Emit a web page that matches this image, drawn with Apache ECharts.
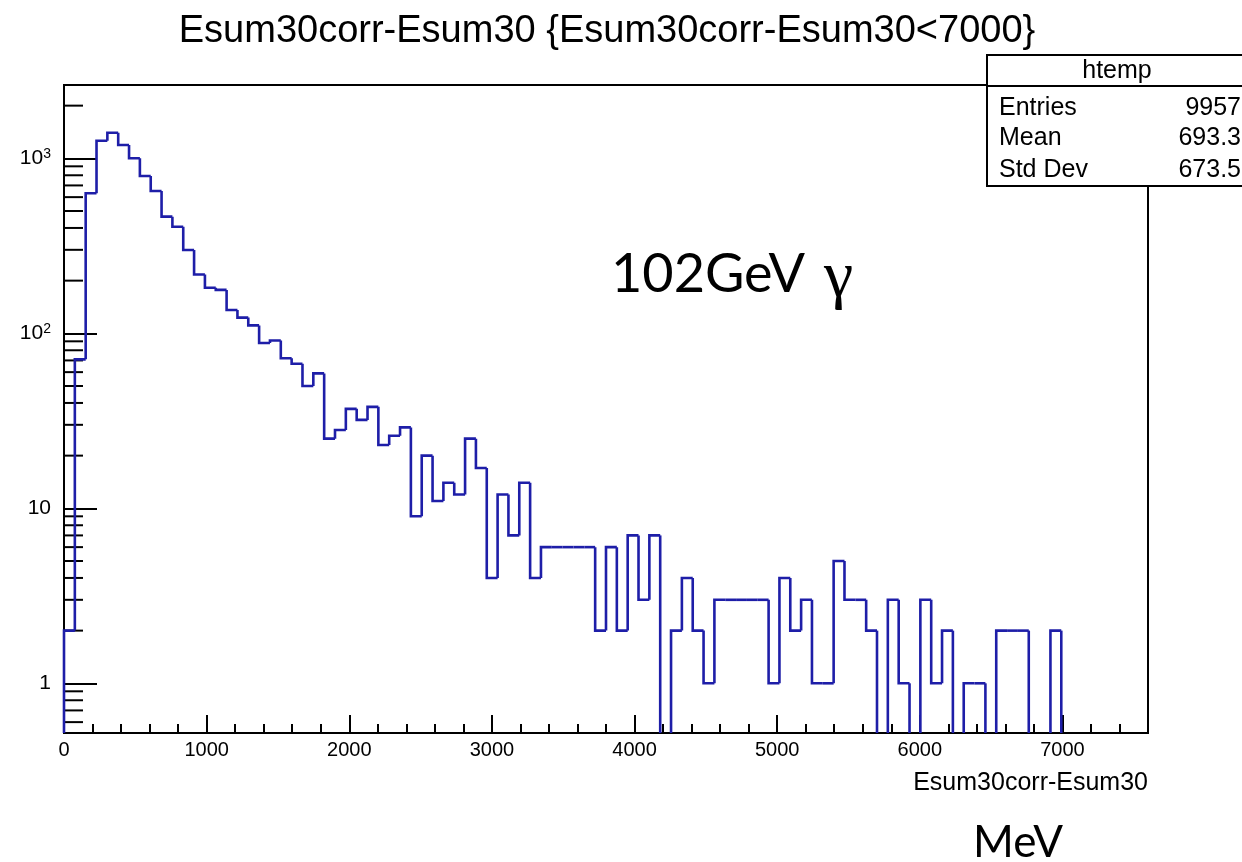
<!DOCTYPE html>
<html><head><meta charset="utf-8">
<script src="https://cdn.jsdelivr.net/npm/echarts@6/dist/echarts.min.js"></script>
<style>html,body{margin:0;padding:0;background:#fff}#c{width:1242px;height:862px}</style>
</head><body><div id="c"></div>
<script>
// ---- data ----
const binWidth = 76;            // MeV per bin (100 bins over 0..7600)
const xRange = [0, 7600];
const yRange = [0.52, 2624];
const binCounts = [
  2, 71, 631, 1261, 1400, 1191, 1000, 792, 651, 464,
  406, 299, 217, 182, 177, 136, 123, 111, 88, 91,
  72, 67, 50, 59, 25, 28, 37, 32, 38, 23,
  26, 29, 9, 20, 11, 14, 12, 25, 17, 4,
  12, 7, 14, 4, 6, 6, 6, 6, 6, 2,
  6, 2, 7, 3, 7, 0, 2, 4, 2, 1,
  3, 3, 3, 3, 3, 1, 4, 2, 3, 1,
  1, 5, 3, 3, 2, 0, 3, 1, 0, 3,
  1, 2, 0, 1, 1, 0, 2, 2, 2, 0,
  0, 2, 0, 0, 0, 0, 0, 0, 0, 0
];
const yMinorTicks = [0.6, 0.7, 0.8, 0.9, 2, 3, 4, 5, 6, 7, 8, 9, 20, 30, 40, 50, 60, 70, 80, 90,
  200, 300, 400, 500, 600, 700, 800, 900, 2000];
const titleText = 'Esum30corr-Esum30 {Esum30corr-Esum30<7000}';
const xAxisTitle = 'Esum30corr-Esum30';
const statsName = 'htemp';
const statsLabels = ['Entries', 'Mean', 'Std Dev'];
const statsValues = ['9957', '693.3', '673.5'];
const annotation = '102GeV';
const annotationGreek = 'γ';
const unitText = 'MeV';

// ---- build ----
const histData = binCounts.map((c, i) => [i * binWidth, (i + 1) * binWidth, c, i > 0 ? binCounts[i - 1] : 0]);
const minorData = yMinorTicks.map(v => [0, v]);
const ROOTFONT = 'Liberation Sans';

const chart = echarts.init(document.getElementById('c'), null, {renderer: 'canvas'});

const statsGraphics = [];
statsGraphics.push({type: 'rect', z: 100, shape: {x: 987, y: 55, width: 270, height: 131},
  style: {fill: '#fff', stroke: '#000', lineWidth: 2}});
statsGraphics.push({type: 'line', z: 101, shape: {x1: 987, y1: 86, x2: 1242, y2: 86},
  style: {stroke: '#000', lineWidth: 2}});
statsGraphics.push({type: 'text', z: 102, x: 1117, y: 71,
  style: {text: statsName, font: '25px "' + ROOTFONT + '"', fill: '#000', textAlign: 'center', textVerticalAlign: 'middle'}});
const rowY = [108, 138, 170];
statsLabels.forEach((l, i) => {
  statsGraphics.push({type: 'text', z: 102, x: 999, y: rowY[i],
    style: {text: l, font: '25px "' + ROOTFONT + '"', fill: '#000', textAlign: 'left', textVerticalAlign: 'middle'}});
  statsGraphics.push({type: 'text', z: 102, x: 1241, y: rowY[i],
    style: {text: statsValues[i], font: '25px "' + ROOTFONT + '"', fill: '#000', textAlign: 'right', textVerticalAlign: 'middle'}});
});

const option = {
  animation: false,
  backgroundColor: '#fff',
  grid: {left: 64, right: 94, top: 85, bottom: 129, show: true, borderColor: '#000', borderWidth: 2, backgroundColor: 'transparent'},
  xAxis: [{
    type: 'value', min: xRange[0], max: xRange[1], interval: 1000,
    axisLine: {show: true, onZero: false, lineStyle: {color: '#000', width: 2}},
    axisTick: {show: true, inside: true, length: 18, lineStyle: {color: '#000', width: 2}},
    splitLine: {show: false},
    axisLabel: {show: true, color: '#000', fontFamily: ROOTFONT, fontSize: 20, margin: 7, showMaxLabel: false,
      formatter: v => (v % 1000 === 0 ? String(v) : '')}
  }, {
    type: 'value', min: xRange[0], max: xRange[1], interval: 200, position: 'bottom',
    axisLine: {show: false}, axisLabel: {show: false}, splitLine: {show: false},
    axisTick: {show: true, inside: true, length: 9, lineStyle: {color: '#000', width: 2}}
  }],
  yAxis: {
    type: 'log', logBase: 10, min: yRange[0], max: yRange[1],
    axisLine: {show: true, onZero: false, lineStyle: {color: '#000', width: 2}},
    axisTick: {show: true, inside: true, length: 33, lineStyle: {color: '#000', width: 2}},
    splitLine: {show: false}, minorTick: {show: false},
    axisLabel: {show: true, color: '#000', margin: 13, showMinLabel: true, showMaxLabel: true,
      formatter: v => {
        const l = Math.log10(v), e = Math.round(l);
        if (Math.abs(l - e) > 1e-6) return '';
        if (e === 0) return '{b|1}';
        if (e === 1) return '{b|10}';
        return '{b|10}{s|' + e + '}';
      },
      rich: {
        b: {fontFamily: ROOTFONT, fontSize: 21, color: '#000'},
        s: {fontFamily: ROOTFONT, fontSize: 14, color: '#000', padding: [0, 0, 9, 0]}
      }
    }
  },
  series: [{
    type: 'custom', name: 'hist', data: histData, encode: {x: [0, 1], y: 2}, z: 5,
    renderItem: (params, api) => {
      const xa = api.value(0), xb = api.value(1), c = api.value(2), p = api.value(3);
      const cs = params.coordSys, bottom = cs.y + cs.height;
      const yOf = v => (v > 0 ? api.coord([xa, v])[1] : bottom);
      const x0 = api.coord([xa, 1])[0], x1 = api.coord([xb, 1])[0];
      const y = yOf(c), yp = yOf(p);
      if (c <= 0 && p <= 0) return null;
      const pts = c > 0 ? [[x0, yp], [x0, y], [x1, y]] : [[x0, yp], [x0, bottom]];
      return {type: 'polyline', shape: {points: pts},
        style: {stroke: '#1e1ea8', lineWidth: 2.6, fill: null, lineJoin: 'miter', lineCap: 'butt'}};
    }
  }, {
    type: 'custom', name: 'yminor', data: minorData, encode: {x: 0, y: 1}, z: 4,
    renderItem: (params, api) => {
      const pt = api.coord([api.value(0), api.value(1)]);
      return {type: 'line', shape: {x1: pt[0], y1: pt[1], x2: pt[0] + 19, y2: pt[1]},
        style: {stroke: '#000', lineWidth: 2}};
    }
  }],
  graphic: [
    {type: 'text', x: 607, y: 32, style: {text: titleText, font: '38px "' + ROOTFONT + '"', fill: '#000', textAlign: 'center', textVerticalAlign: 'middle'}},
    {type: 'text', x: 1148, y: 783, style: {text: xAxisTitle, font: '25px "' + ROOTFONT + '"', fill: '#000', textAlign: 'right', textVerticalAlign: 'middle'}},
    {type: 'text', x: 611, y: 275, style: {text: annotation, font: '54px "Lato"', fill: '#000', textAlign: 'left', textVerticalAlign: 'middle'}},
    {type: 'text', x: 824, y: 279, style: {text: annotationGreek, font: '66px "Liberation Serif"', fill: '#000', textAlign: 'left', textVerticalAlign: 'middle'}},
    {type: 'text', x: 1018, y: 843, style: {text: unitText, font: '44px "Lato"', fill: '#000', textAlign: 'center', textVerticalAlign: 'middle'}}
  ].concat(statsGraphics)
};
chart.setOption(option);
</script>
</body></html>
